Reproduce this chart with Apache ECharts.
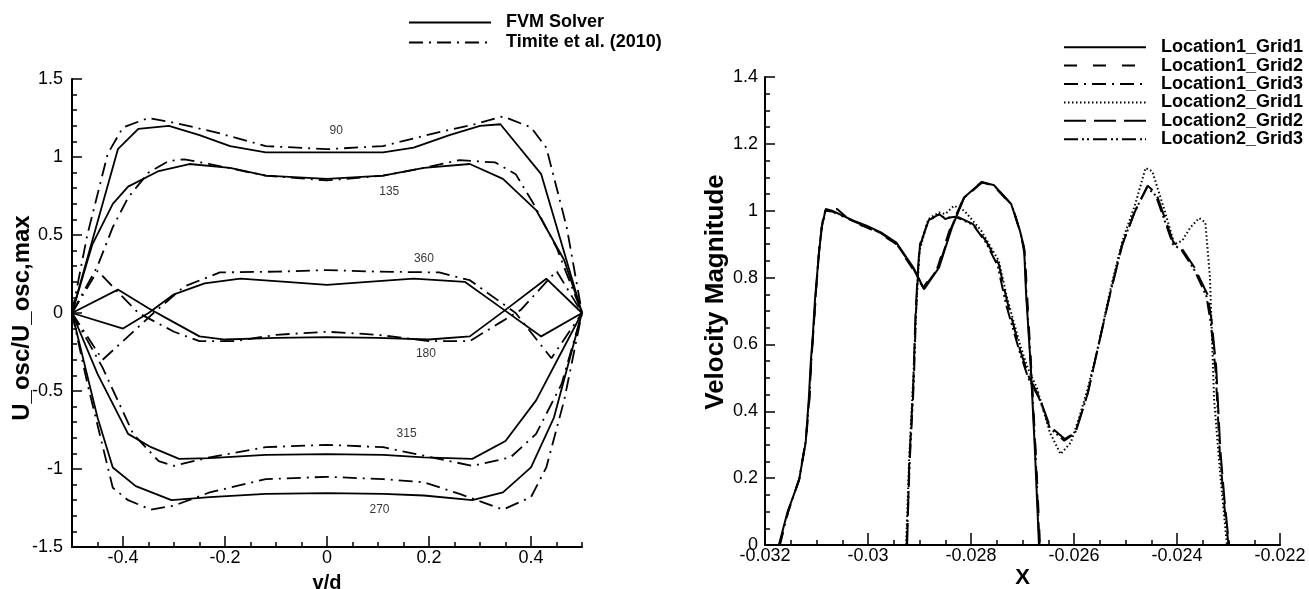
<!DOCTYPE html>
<html>
<head>
<meta charset="utf-8">
<script src="https://cdn.jsdelivr.net/npm/echarts@6/dist/echarts.min.js"></script>
<style>
html,body{margin:0;padding:0;background:#fff;}
#chart{width:1309px;height:589px;}
</style>
</head>
<body>
<div id="chart"></div>
<script>
// ---- left panel: oscillating velocity profiles, [y/d, U_osc/U_osc,max]
const fvm90  = [[-0.5,0],[-0.41,1.05],[-0.37,1.18],[-0.31,1.2],[-0.25,1.14],[-0.19,1.07],[-0.12,1.03],[0,1.03],[0.11,1.03],[0.17,1.06],[0.24,1.14],[0.3,1.2],[0.34,1.21],[0.42,0.89],[0.5,0]];
const tim90  = [[-0.5,0],[-0.47,0.5],[-0.43,1.02],[-0.4,1.19],[-0.35,1.25],[-0.3,1.22],[-0.22,1.16],[-0.12,1.07],[0,1.05],[0.11,1.07],[0.22,1.16],[0.29,1.21],[0.345,1.26],[0.4,1.19],[0.43,1.06],[0.47,0.55],[0.5,0]];
const fvm135 = [[-0.5,0],[-0.46,0.44],[-0.42,0.7],[-0.39,0.81],[-0.33,0.91],[-0.27,0.955],[-0.19,0.93],[-0.12,0.88],[0,0.86],[0.11,0.88],[0.19,0.93],[0.28,0.955],[0.345,0.86],[0.41,0.66],[0.465,0.34],[0.5,0]];
const tim135 = [[-0.5,0],[-0.45,0.3],[-0.42,0.55],[-0.39,0.74],[-0.35,0.9],[-0.31,0.975],[-0.28,0.985],[-0.23,0.955],[-0.12,0.88],[0,0.85],[0.11,0.88],[0.19,0.93],[0.26,0.98],[0.33,0.965],[0.37,0.89],[0.405,0.7],[0.45,0.42],[0.5,0]];
const fvm360 = [[-0.5,0],[-0.4,-0.1],[-0.35,0.0],[-0.3,0.12],[-0.24,0.19],[-0.17,0.22],[-0.08,0.2],[0,0.18],[0.08,0.2],[0.17,0.22],[0.27,0.2],[0.33,0.06],[0.42,-0.15],[0.5,0]];
const tim360 = [[-0.5,0],[-0.44,-0.3],[-0.34,0.0],[-0.28,0.17],[-0.21,0.26],[-0.1,0.265],[0,0.275],[0.1,0.265],[0.22,0.26],[0.28,0.21],[0.37,0.0],[0.44,-0.29],[0.5,0]];
const fvm180 = [[-0.5,0],[-0.41,0.15],[-0.35,0.03],[-0.3,-0.06],[-0.25,-0.15],[-0.2,-0.17],[-0.1,-0.16],[0,-0.155],[0.1,-0.16],[0.2,-0.17],[0.28,-0.15],[0.35,0.02],[0.43,0.22],[0.5,0]];
const tim180 = [[-0.5,0],[-0.45,0.27],[-0.37,0.0],[-0.3,-0.12],[-0.25,-0.18],[-0.18,-0.18],[-0.1,-0.14],[0,-0.12],[0.1,-0.14],[0.2,-0.18],[0.28,-0.18],[0.34,-0.06],[0.38,0.02],[0.45,0.27],[0.5,0]];
const fvm315 = [[-0.5,0],[-0.45,-0.39],[-0.39,-0.775],[-0.345,-0.86],[-0.29,-0.935],[-0.23,-0.93],[-0.12,-0.91],[0,-0.905],[0.11,-0.91],[0.19,-0.925],[0.285,-0.935],[0.35,-0.82],[0.41,-0.56],[0.5,0]];
const tim315 = [[-0.5,0],[-0.44,-0.35],[-0.38,-0.775],[-0.33,-0.95],[-0.3,-0.98],[-0.23,-0.925],[-0.12,-0.86],[0,-0.845],[0.11,-0.86],[0.19,-0.915],[0.285,-0.98],[0.36,-0.925],[0.41,-0.775],[0.46,-0.455],[0.5,0]];
const fvm270 = [[-0.5,0],[-0.45,-0.67],[-0.42,-0.99],[-0.375,-1.11],[-0.305,-1.2],[-0.23,-1.18],[-0.12,-1.16],[0,-1.155],[0.11,-1.16],[0.19,-1.17],[0.285,-1.2],[0.345,-1.15],[0.4,-0.99],[0.445,-0.67],[0.5,0]];
const tim270 = [[-0.5,0],[-0.47,-0.45],[-0.42,-1.12],[-0.39,-1.2],[-0.345,-1.26],[-0.3,-1.235],[-0.23,-1.15],[-0.12,-1.065],[0,-1.05],[0.11,-1.065],[0.19,-1.085],[0.26,-1.16],[0.345,-1.26],[0.4,-1.18],[0.43,-0.99],[0.465,-0.56],[0.5,0]];

const phaseLabels = ['90', '135', '360', '180', '315', '270'];
const phaseLabelX = [0.018, 0.122, 0.19, 0.194, 0.156, 0.103];
const phaseLabelY = [1.17, 0.78, 0.35, -0.263, -0.775, -1.26];
const leftXTicks = [-0.4, -0.2, 0, 0.2, 0.4];

// ---- right panel: velocity magnitude along X, [X, |U|]
const loc1Grid1 = [[-0.03173,0],[-0.03156,0.1],[-0.03134,0.193],[-0.03121,0.307],[-0.03115,0.436],[-0.03111,0.55],[-0.03107,0.63],[-0.03103,0.733],[-0.03096,0.86],[-0.0309,0.95],[-0.03082,1.005],[-0.0307,1.0],[-0.03028,0.97],[-0.03003,0.955],[-0.02975,0.935],[-0.02945,0.905],[-0.02912,0.83],[-0.02891,0.765],[-0.02862,0.83],[-0.02837,0.95],[-0.02813,1.04],[-0.02779,1.086],[-0.02755,1.076],[-0.02722,1.02],[-0.02705,0.94],[-0.02697,0.89],[-0.02693,0.75],[-0.02684,0.535],[-0.02676,0.287],[-0.02668,0]];
const loc1Grid2 = [[-0.03171,0],[-0.03155,0.1],[-0.03133,0.2],[-0.0312,0.32],[-0.03113,0.45],[-0.0311,0.56],[-0.03105,0.66],[-0.031,0.78],[-0.03094,0.9],[-0.03088,0.97],[-0.03078,1.0],[-0.0306,1.005],[-0.03045,0.985],[-0.03028,0.965],[-0.03003,0.95],[-0.02975,0.93],[-0.02945,0.9],[-0.02915,0.83],[-0.02893,0.77],[-0.02865,0.83],[-0.0284,0.95],[-0.02815,1.035],[-0.0278,1.083],[-0.02755,1.073],[-0.0272,1.015],[-0.02703,0.93],[-0.02695,0.86],[-0.0269,0.72],[-0.02682,0.5],[-0.02674,0.27],[-0.02666,0]];
const loc1Grid3 = [[-0.03172,0],[-0.03155,0.1],[-0.03134,0.195],[-0.03121,0.31],[-0.03114,0.44],[-0.0311,0.55],[-0.03106,0.64],[-0.03101,0.76],[-0.03095,0.88],[-0.03089,0.96],[-0.03083,1.0],[-0.0307,0.998],[-0.03028,0.968],[-0.03003,0.953],[-0.02975,0.933],[-0.02945,0.902],[-0.02913,0.83],[-0.02892,0.768],[-0.02863,0.83],[-0.02838,0.95],[-0.02814,1.038],[-0.0278,1.085],[-0.02755,1.075],[-0.02721,1.018],[-0.02704,0.935],[-0.02696,0.88],[-0.02692,0.74],[-0.02683,0.52],[-0.02675,0.28],[-0.02667,0]];
const loc2Grid1 = [[-0.02926,0],[-0.0292,0.26],[-0.02912,0.5],[-0.02906,0.72],[-0.029,0.88],[-0.02883,0.975],[-0.02862,0.995],[-0.0285,0.99],[-0.02833,1.015],[-0.02813,1.0],[-0.0278,0.94],[-0.02746,0.85],[-0.0273,0.74],[-0.02705,0.6],[-0.0269,0.53],[-0.02672,0.47],[-0.02647,0.337],[-0.02626,0.272],[-0.02606,0.307],[-0.02589,0.386],[-0.02573,0.47],[-0.02552,0.6],[-0.0253,0.76],[-0.02506,0.91],[-0.02481,1.02],[-0.02461,1.128],[-0.02448,1.118],[-0.02424,1.0],[-0.02405,0.9],[-0.0239,0.91],[-0.02374,0.95],[-0.02357,0.978],[-0.02345,0.965],[-0.02336,0.8],[-0.02328,0.436],[-0.02316,0.21],[-0.02303,0]];
const loc2Grid2 = [[-0.02924,0],[-0.0292,0.24],[-0.02912,0.485],[-0.02908,0.68],[-0.02904,0.8],[-0.029,0.89],[-0.02883,0.97],[-0.02862,0.99],[-0.0285,0.975],[-0.0283,0.985],[-0.02796,0.96],[-0.02771,0.91],[-0.02746,0.84],[-0.0273,0.73],[-0.02705,0.585],[-0.02688,0.505],[-0.02668,0.445],[-0.02647,0.356],[-0.02618,0.317],[-0.02597,0.337],[-0.02573,0.455],[-0.02552,0.6],[-0.0253,0.75],[-0.02506,0.9],[-0.02481,1.0],[-0.02457,1.075],[-0.0244,1.05],[-0.02424,0.98],[-0.02407,0.905],[-0.0239,0.885],[-0.02366,0.83],[-0.02341,0.75],[-0.02333,0.673],[-0.02324,0.535],[-0.02316,0.287],[-0.02308,0.139],[-0.02299,0]];
const loc2Grid3 = [[-0.02925,0],[-0.02919,0.25],[-0.02911,0.49],[-0.02907,0.69],[-0.02903,0.81],[-0.02899,0.9],[-0.02882,0.972],[-0.02862,0.988],[-0.0285,0.978],[-0.0283,0.982],[-0.02796,0.958],[-0.02771,0.905],[-0.02748,0.835],[-0.02732,0.72],[-0.02706,0.58],[-0.02689,0.5],[-0.02668,0.44],[-0.02647,0.35],[-0.02619,0.312],[-0.02598,0.335],[-0.02574,0.45],[-0.02553,0.595],[-0.02531,0.745],[-0.02507,0.895],[-0.02482,0.998],[-0.02458,1.07],[-0.02441,1.045],[-0.02425,0.975],[-0.02408,0.9],[-0.02391,0.882],[-0.02367,0.825],[-0.02343,0.745],[-0.02334,0.66],[-0.02325,0.52],[-0.02317,0.28],[-0.02309,0.13],[-0.023,0]];

const rightNames = ['Location1_Grid1', 'Location1_Grid2', 'Location1_Grid3', 'Location2_Grid1', 'Location2_Grid2', 'Location2_Grid3'];
const rightCurves = [loc1Grid1, loc1Grid2, loc1Grid3, loc2Grid1, loc2Grid2, loc2Grid3];
const rightDashes = ['solid', [13, 16], [14, 6, 2, 6], [1.5, 2.5], [22, 8], [14, 4, 2, 3, 2, 4]];

const leftFvm = [fvm90, fvm135, fvm360, fvm180, fvm315, fvm270];
const leftTim = [tim90, tim135, tim360, tim180, tim315, tim270];
const timDash = [14, 6, 2, 6];

const FONT = 'Liberation Sans';

let series = [];
for (let c of leftFvm) {
  series.push({
    type: 'line', name: 'FVM Solver', xAxisIndex: 0, yAxisIndex: 0, data: c,
    symbol: 'none', silent: true,
    itemStyle: {color: '#000'},
    lineStyle: {color: '#000', width: 1.8, type: 'solid'}
  });
}
for (let c of leftTim) {
  series.push({
    type: 'line', name: 'Timite et al. (2010)', xAxisIndex: 0, yAxisIndex: 0, data: c,
    symbol: 'none', silent: true,
    itemStyle: {color: '#000'},
    lineStyle: {color: '#000', width: 1.8, type: timDash}
  });
}
series.push({
  type: 'scatter', name: 'phase', xAxisIndex: 0, yAxisIndex: 0, silent: true,
  symbolSize: 1, itemStyle: {color: 'rgba(0,0,0,0)'},
  data: phaseLabels.map((t, i) => ({name: t, value: [phaseLabelX[i], phaseLabelY[i]]})),
  label: {show: true, position: 'inside', formatter: '{b}', fontFamily: FONT, fontSize: 12, color: '#000'}
});
rightCurves.forEach((c, i) => {
  series.push({
    type: 'line', name: rightNames[i], xAxisIndex: 2, yAxisIndex: 1, data: c,
    symbol: 'none', silent: true,
    itemStyle: {color: '#000'},
    lineStyle: {color: '#000', width: 2, type: rightDashes[i]}
  });
});

const axisLine = {onZero: false, lineStyle: {color: '#000', width: 2}};
const tickLine = {color: '#000', width: 1.5};
const labelStyle = {fontFamily: FONT, fontSize: 18, color: '#000'};
const nameStyle = {fontFamily: FONT, fontWeight: 'bold', color: '#000'};

function legendText(lh) {
  return {fontFamily: FONT, fontWeight: 'bold', fontSize: 18, color: '#000', padding: [0, 0, 0, 10], lineHeight: lh};
}

const option = {
  animation: false,
  backgroundColor: '#fff',
  grid: [
    {left: 72, top: 79, width: 510, height: 468, outerBoundsMode: 'none'},
    {left: 765, top: 77, width: 515, height: 468, outerBoundsMode: 'none'}
  ],
  legend: [
    {
      data: ['FVM Solver', 'Timite et al. (2010)'],
      orient: 'vertical', left: 408, top: 13, padding: 0,
      itemWidth: 82, itemHeight: 14, itemGap: 1,
      itemStyle: {opacity: 0},
      selectedMode: false, textStyle: legendText(19)
    },
    {
      data: rightNames,
      orient: 'vertical', left: 1063, top: 38, padding: 0,
      itemWidth: 82, itemHeight: 14, itemGap: 0,
      itemStyle: {opacity: 0},
      selectedMode: false, textStyle: legendText(18.4)
    }
  ],
  xAxis: [
    {
      type: 'value', gridIndex: 0, min: -0.5, max: 0.5, interval: 0.05,
      name: 'v/d', nameLocation: 'middle', nameGap: 26, nameMoveOverlap: false,
      nameTextStyle: Object.assign({fontSize: 20}, nameStyle),
      axisLine: axisLine,
      axisTick: {inside: true, length: 5, lineStyle: tickLine},
      axisLabel: {show: false},
      splitLine: {show: false}
    },
    {
      type: 'value', gridIndex: 0, min: -0.5, max: 0.5, position: 'bottom', offset: 0,
      axisLine: {show: false, onZero: false},
      axisTick: {inside: true, length: 11, lineStyle: tickLine, customValues: leftXTicks},
      axisLabel: Object.assign({margin: 2, customValues: leftXTicks, formatter: v => String(parseFloat(v.toFixed(2)))}, labelStyle),
      splitLine: {show: false}
    },
    {
      type: 'value', gridIndex: 1, min: -0.032, max: -0.022, interval: 0.002,
      name: 'X', nameLocation: 'middle', nameGap: 22, nameMoveOverlap: false,
      nameTextStyle: Object.assign({fontSize: 22}, nameStyle),
      axisLine: axisLine,
      axisTick: {inside: true, length: 12, lineStyle: tickLine},
      minorTick: {show: true, splitNumber: 4, length: 5, lineStyle: tickLine},
      axisLabel: Object.assign({margin: 2, formatter: v => String(parseFloat(v.toFixed(4)))}, labelStyle),
      splitLine: {show: false}
    }
  ],
  yAxis: [
    {
      type: 'value', gridIndex: 0, min: -1.5, max: 1.5, interval: 0.5,
      name: 'U_osc/U_osc,max', nameLocation: 'middle', nameGap: 38, nameMoveOverlap: false,
      nameTextStyle: Object.assign({fontSize: 24, padding: [0, 10, 0, 0]}, nameStyle),
      axisLine: axisLine,
      axisTick: {inside: true, length: 10, lineStyle: tickLine},
      minorTick: {show: true, splitNumber: 5, length: 5, lineStyle: tickLine},
      axisLabel: Object.assign({margin: 9}, labelStyle),
      splitLine: {show: false}
    },
    {
      type: 'value', gridIndex: 1, min: 0, max: 1.4, interval: 0.2,
      name: 'Velocity Magnitude', nameLocation: 'middle', nameGap: 36, nameMoveOverlap: false,
      nameTextStyle: Object.assign({fontSize: 26, padding: [0, 0, 0, 38]}, nameStyle),
      axisLine: axisLine,
      axisTick: {inside: true, length: 10, lineStyle: tickLine},
      minorTick: {show: true, splitNumber: 4, length: 5, lineStyle: tickLine},
      axisLabel: Object.assign({margin: 7, formatter: v => String(parseFloat(v.toFixed(2)))}, labelStyle),
      splitLine: {show: false}
    }
  ],
  series: series
};

const myChart = echarts.init(document.getElementById('chart'));
myChart.setOption(option);
</script>
</body>
</html>
